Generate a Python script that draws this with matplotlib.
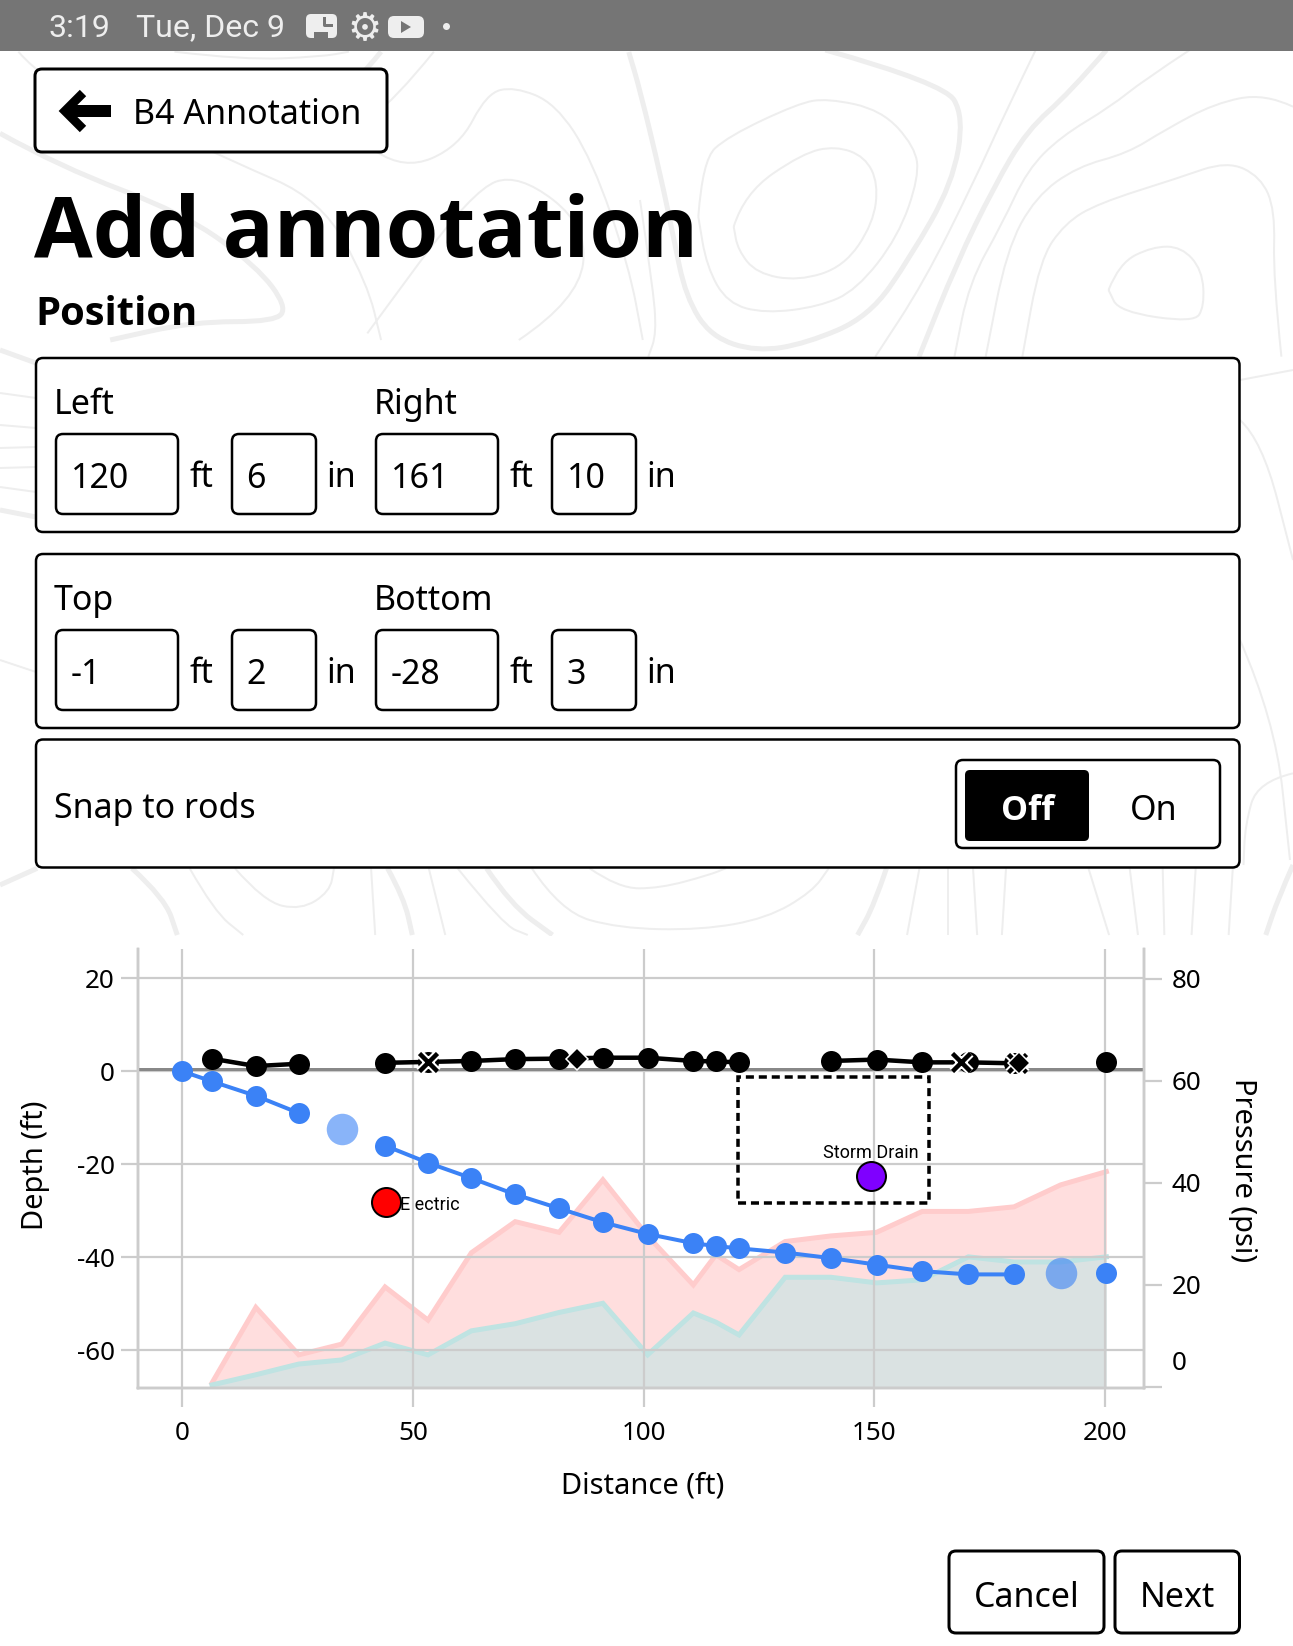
import numpy as np
import matplotlib
matplotlib.use("Agg")
import matplotlib.pyplot as plt
from matplotlib.patches import FancyBboxPatch, Rectangle, Polygon, PathPatch
from matplotlib.path import Path

plt.rcParams['font.family'] = ['Noto Sans', 'DejaVu Sans']

W, H = 1293, 1646
DPI = 100
PX = 72 / DPI  # one screen pixel in points
BOLD = dict(family="Open Sans", fontweight="bold")

# chart data
distance = [0, 6.5, 16, 25.3, 34.6, 44, 53.3, 62.7, 72.2, 81.7, 91.2, 100.9, 110.8,
            115.7, 120.7, 130.7, 140.6, 150.5, 160.4, 170.4, 180.3, 190.4, 200.3]
depth = [0, -2.2, -5.3, -9, np.nan, -16, -19.7, -23, -26.5, -29.5, -32.5, -35, -37,
         -37.6, -38.1, -39, -40.2, -41.6, -43, -43.7, -43.7, np.nan, -43.4]
missing_x = [34.6, 190.4]
missing_depth = [-12.5, -43.4]
elevation = [np.nan, 2.7, 1.1, 1.6, np.nan, 1.8, 2.0, 2.2, 2.6, 2.7, 2.9, 2.9, 2.2,
             2.1, 1.9, np.nan, 2.2, 2.5, 1.9, 1.9, 1.7, np.nan, 1.9]
cross_x = [53.3, 168.7, 181]
cross_y = [2.0, 1.9, 1.7]
diamond_x = [85.5, 181.4]
diamond_y = [2.6, 1.7]

pressure_x = distance[1:]
max_pressure = [0.8, 15.6, 6.3, 8.4, 19.6, 13.1, 26.3, 32.4, 30.3, 40.6, 29.6, 20, 25.9,
                23, 28.5, 29.6, 30.3, 34.4, 34.4, 35.3, 39.6, 42.2]
min_pressure = [0.4, 2.4, 4.5, 5.3, 8.6, 6.3, 11, 12.4, 14.6, 16.4, 6.3, 14.5, 12.7,
                10.2, 21.5, 21.5, 20.4, 21, 25.5, 24.5, 24.5, 25.5]

utility_x = [44.2, 149.2]
utility_y = [-28.2, -22.5]
utility_names = ["E ectric", "Storm Drain"]
utility_colors = ["#ff0000", "#7f00ff"]

# values in the form, these also place the dashed box
left_ft, left_in = 120, 6
right_ft, right_in = 161, 10
top_ft, top_in = -1, 2
bottom_ft, bottom_in = -28, 3

x_ticks = [0, 50, 100, 150, 200]
depth_ticks = [20, 0, -20, -40, -60]
pressure_ticks = [80, 60, 40, 20, 0]

# background contour lines, as seen in the zoomed crops (crop x, crop y)
TOP_RIGHT = (640, 50, 2.401, 3)
thick_top_right = [
    [(445, 0), (730, 100), (778, 200), (750, 400), (650, 620), (550, 800), (400, 880), (280, 905),
     (170, 860), (110, 740), (80, 560), (50, 380), (0, 120), (-27, 6)],
    [(1120, 0), (1030, 130), (930, 240), (850, 410), (760, 640), (670, 920)],
]
thin_top_right = [
    [(140, 500), (150, 330), (210, 260), (380, 160), (450, 145), (580, 180), (660, 290), (670, 380),
     (620, 560), (520, 720), (430, 770), (300, 790), (210, 760), (160, 650), (140, 500)],
    [(225, 530), (250, 430), (390, 310), (470, 288), (540, 320), (572, 400), (560, 520), (490, 650),
     (380, 693), (280, 670), (235, 600), (225, 530)],
    [(950, 0), (880, 180), (800, 400), (680, 700), (565, 920)],
    [(1320, 0), (1210, 90), (1130, 170), (1010, 260), (930, 360), (870, 520), (790, 700), (755, 920)],
    [(1568, 170), (1500, 130), (1380, 160), (1260, 240), (1170, 310), (1050, 350), (950, 440),
     (880, 600), (830, 920)],
    [(1540, 920), (1520, 680), (1525, 480), (1490, 380), (1410, 333), (1290, 385), (1100, 460),
     (1020, 520), (960, 630), (918, 920)],
    [(1125, 720), (1150, 640), (1230, 590), (1300, 590), (1350, 660), (1355, 770), (1330, 818),
     (1150, 785), (1125, 720)],
    [(0, 450), (30, 700), (40, 850), (20, 920)],
]
TOP_LEFT = (0, 0, 2.178, 3)
thick_top_left = [
    [(0, 400), (130, 500), (400, 640), (560, 800), (625, 920), (600, 965), (420, 965), (240, 1020)],
    [(830, 155), (780, 240), (700, 330)],
]
thin_top_left = [
    [(40, 155), (100, 250), (300, 350), (500, 480), (700, 600), (800, 850), (830, 1020)],
    [(380, 155), (530, 180), (700, 170), (760, 155)],
    [(945, 155), (860, 300), (760, 400), (880, 510), (1000, 440), (1060, 280), (1120, 260),
     (1210, 310), (1290, 480), (1370, 800), (1400, 1020)],
    [(1130, 1020), (1260, 900), (1280, 680), (1130, 520), (1030, 570), (800, 1000)],
]
BELOW = (0, 725, 1.2127, 3)
thick_below = [
    [(160, 430), (200, 520), (215, 630)], [(470, 430), (490, 520), (500, 630)],
    [(590, 430), (620, 540), (670, 630)], [(1075, 430), (1060, 540), (1040, 630)],
    [(1568, 420), (1550, 520), (1535, 630)], [(0, 480), (45, 430)],
]
thin_below = [
    [(230, 430), (260, 560), (295, 630)], [(285, 430), (320, 530), (365, 555), (400, 500), (405, 430)],
    [(450, 430), (455, 630)], [(520, 430), (540, 630)], [(555, 430), (610, 600), (640, 630)],
    [(645, 430), (680, 560), (750, 610), (850, 615), (930, 580), (985, 500), (1005, 430)],
    [(715, 430), (750, 490), (800, 490), (860, 450), (880, 430)],
    [(1115, 430), (1100, 630)], [(1150, 430), (1150, 630)], [(1180, 430), (1185, 630)],
    [(1220, 430), (1215, 630)], [(1320, 430), (1345, 630)], [(1370, 430), (1380, 630)],
    [(1410, 430), (1412, 630)], [(1450, 430), (1445, 630)], [(1495, 430), (1490, 630)],
    [(1568, 145), (1525, 170), (1510, 300), (1508, 420)],
]
thin_margin = [
    [(0, 393), (36, 398)], [(0, 425), (36, 428)], [(0, 448), (36, 447)], [(0, 468), (36, 467)],
    [(0, 487), (36, 492)], [(1240, 420), (1262, 440), (1293, 560)], [(1240, 640), (1275, 720), (1290, 860)],
    [(0, 660), (36, 672)], [(1240, 380), (1293, 370)],
]
thick_margin = [[(0, 350), (36, 363)], [(0, 510), (36, 517)]]

fig = plt.figure(figsize=(W / DPI, H / DPI), dpi=DPI, facecolor="white")

# screen layer in pixel coordinates
ui = fig.add_axes([0, 0, 1, 1])
ui.set_xlim(0, W)
ui.set_ylim(H, 0)
ui.axis("off")


def contour(points, crop, lw, color="#eeeeee"):
    x0, y0, sx, sy = crop
    pts = [(x0 + px / sx, y0 + py / sy) for px, py in points]
    verts = [pts[0]]
    codes = [Path.MOVETO]
    for a, b in zip(pts[1:-1], pts[2:]):
        verts += [a, ((a[0] + b[0]) / 2, (a[1] + b[1]) / 2)]
        codes += [Path.CURVE3, Path.CURVE3]
    verts += [pts[-1]]
    codes += [Path.LINETO]
    ui.add_patch(PathPatch(Path(verts, codes), fill=False, ec=color, lw=lw * PX, zorder=1))


for line in thick_top_right:
    contour(line, TOP_RIGHT, 5)
for line in thin_top_right:
    contour(line, TOP_RIGHT, 2)
for line in thick_top_left:
    contour(line, TOP_LEFT, 5)
for line in thin_top_left:
    contour(line, TOP_LEFT, 2)
for line in thick_below:
    contour(line, BELOW, 5)
for line in thin_below:
    contour(line, BELOW, 2)
for line in thin_margin:
    contour(line, (0, 0, 1, 1), 2)
for line in thick_margin:
    contour(line, (0, 0, 1, 1), 5)


def box(x0, y0, x1, y1, lw=2.5, radius=7, fc="white", ec="black", z=3):
    ui.add_patch(FancyBboxPatch((x0, y0), x1 - x0, y1 - y0,
                                boxstyle=f"round,pad=0,rounding_size={radius}",
                                fc=fc, ec=ec, lw=lw * PX, zorder=z))


def label(x, y, s, size, **kw):
    kw.setdefault("va", "baseline")
    kw.setdefault("color", "black")
    ui.text(x, y, s, fontsize=size * PX, zorder=6, **kw)


# white chart area and status bar
ui.add_patch(Rectangle((0, 936), W, H - 936, fc="white", ec="none", zorder=2))
ui.add_patch(Rectangle((0, 0), W, 51, fc="#757575", ec="none", zorder=2))
label(49, 28, "3:19", 32, family="Roboto", color="#eeeeee", va="center")
label(136, 28, "Tue, Dec 9", 32, family="Roboto", color="#eeeeee", va="center")
box(306, 14, 337, 38, lw=0, radius=5, fc="#eeeeee")
ui.plot([324, 324, 331], [18, 25, 25], color="#757575", lw=3 * PX, zorder=4)
ui.add_patch(Rectangle((314, 32), 14, 8, fc="#757575", ec="none", zorder=4))
label(364, 30, "\u2699", 38, family="DejaVu Sans", color="#eeeeee", va="center", ha="center")
box(388, 16, 424, 38, lw=0, radius=6, fc="#eeeeee")
ui.add_patch(Polygon([(401, 21), (401, 33), (411, 27)], fc="#757575", ec="none", zorder=4))
ui.plot([446], [26], "o", color="#eeeeee", ms=7 * PX, mew=0, zorder=4)

# back button and headings
box(35, 69, 387, 152, lw=3)
ui.plot([111, 68], [111, 111], color="black", lw=12 * PX, solid_capstyle="butt", zorder=4)
ui.plot([83, 65, 83], [93, 111, 129], color="black", lw=9 * PX, solid_joinstyle="miter",
        solid_capstyle="butt", zorder=4)
label(133, 124, "B4 Annotation", 34)
label(34, 257, "Add annotation", 85, **BOLD)
label(35, 325, "Position", 40, **BOLD)

# position panels
for top, first, second, vals in [(358, "Left", "Right", (left_ft, left_in, right_ft, right_in)),
                                 (554, "Top", "Bottom", (top_ft, top_in, bottom_ft, bottom_in))]:
    box(36, top, 1239.5, top + 174)
    label(54, top + 56, first, 34)
    label(374, top + 56, second, 34)
    for x0, x1, val, unit, unit_x in zip((56, 232, 376, 552), (178, 316, 498, 636), vals,
                                         ("ft", "in", "ft", "in"), (189, 326, 509, 646)):
        box(x0, top + 76, x1, top + 156, lw=2.5)
        label(x0 + 14.5, top + 130, str(val), 34)
        label(unit_x, top + 129, unit, 34)

# snap panel
box(36, 739.5, 1239.5, 867.5)
label(54, 818, "Snap to rods", 34)
box(956, 760, 1220, 848)
box(965, 770, 1089, 841, lw=0, radius=5, fc="black", z=4)
label(1028, 820, "Off", 34, color="white", ha="center", **BOLD)
label(1154, 820, "On", 34, ha="center")

# bottom buttons
box(949, 1551, 1104, 1633, lw=3)
box(1115, 1551, 1239.5, 1633, lw=3)
label(1026.5, 1607, "Cancel", 34, ha="center")
label(1177, 1607, "Next", 34, ha="center")

# chart
AX_L, AX_R, AX_T, AX_B = 137.6, 1144, 949, 1388
GRID = "#cccccc"
ax = fig.add_axes([AX_L / W, 1 - AX_B / H, (AX_R - AX_L) / W, (AX_B - AX_T) / H])
ax_p = ax.twinx()
ax.patch.set_visible(False)
ax_p.patch.set_visible(False)
ax.set_zorder(ax_p.get_zorder() + 1)

ax.set_xlim((AX_L - 182) / 4.615, (AX_R - 182) / 4.615)
ax.set_ylim((1071.2 - AX_B) / 4.65, (1071.2 - AX_T) / 4.65)
ax_p.set_ylim((1387 - AX_B) / 5.104, (1387 - AX_T) / 5.104)

# pressure areas
floor = ax_p.get_ylim()[0]
ax_p.fill_between(pressure_x, max_pressure, floor, color="#ff0000", alpha=0.13, lw=0)
ax_p.fill_between(pressure_x, min_pressure, floor, color="#00fffa", alpha=0.145, lw=0)
ax_p.plot(pressure_x, max_pressure, color="#ffcccc", lw=5 * PX, solid_joinstyle="miter")
ax_p.plot(pressure_x, min_pressure, color="#bfe3e2", lw=5 * PX, solid_joinstyle="miter")

ax.set_xticks(x_ticks)
ax.set_xticklabels([str(v) for v in x_ticks])
ax.set_yticks(depth_ticks)
ax.set_yticklabels([str(v) for v in depth_ticks])
ax_p.set_yticks(pressure_ticks)
ax_p.set_yticklabels([str(v) if v else "" for v in pressure_ticks])
ax.grid(True, color=GRID, lw=2.2 * PX)
ax.set_axisbelow(True)
ax.tick_params(axis="x", length=19 * PX, width=2.2 * PX, color=GRID, labelsize=26 * PX, pad=14 * PX)
ax.tick_params(axis="y", length=17 * PX, width=2.2 * PX, color=GRID, labelsize=26 * PX, pad=6 * PX)
ax_p.tick_params(axis="y", length=18 * PX, width=2.2 * PX, color=GRID, labelsize=26 * PX, pad=10 * PX)
ax_p.annotate("0", xy=(1, 0), xycoords=("axes fraction", "data"), xytext=(28 * PX, 23 * PX),
              textcoords="offset points", fontsize=26 * PX, va="center", ha="left")

for a in (ax, ax_p):
    a.spines["top"].set_visible(False)
    for side in ("left", "right", "bottom"):
        a.spines[side].set_color(GRID)
        a.spines[side].set_linewidth(2.5 * PX)

ax.set_xlabel("Distance (ft)", fontsize=29 * PX)
ax.xaxis.set_label_coords(0.5023, -0.19)
ax.set_ylabel("Depth (ft)", fontsize=29 * PX, va="center")
ax.yaxis.set_label_coords((35.5 - AX_L) / (AX_R - AX_L), 0.508)
ax_p.set_ylabel("Pressure (psi)", fontsize=29 * PX, rotation=270, va="center")
ax_p.yaxis.set_label_coords((1242 - AX_L) / (AX_R - AX_L), 0.4966)

# ground line
ax.axhline(0.4, color="#888888", lw=3 * PX, zorder=1.5)

# drawn box from the form values
box_left = left_ft + left_in / 12
box_right = right_ft + right_in / 12
box_top = top_ft - top_in / 12
box_bottom = bottom_ft - bottom_in / 12
ax.add_patch(Rectangle((box_left, box_bottom), box_right - box_left, box_top - box_bottom, fill=False,
                       ec="black", lw=3.5 * PX, ls=(0, (2.3, 1.4)), zorder=2.5))

# rod tops
ax.plot(distance, elevation, "-o", color="black", lw=4.5 * PX, ms=21 * PX, mew=0, zorder=3)
ax.plot(cross_x, cross_y, "x", color="white", ms=18 * PX, mew=8.5 * PX, zorder=3.1)
ax.plot(cross_x, cross_y, "x", color="black", ms=18 * PX, mew=4.5 * PX, zorder=3.2)
ax.plot(diamond_x, diamond_y, "D", color="black", mec="white", ms=15 * PX, mew=1.5 * PX, zorder=3.3)

# depth readings
ax.plot(distance, depth, "-o", color="#3b82f6", lw=4 * PX, ms=21 * PX, mew=0, zorder=4)
ax.plot(missing_x, missing_depth, "o", color="#3b82f6", alpha=0.6, ms=31.5 * PX, mew=0, zorder=4)

# utilities
for ux, uy, name, col, off, ha in zip(utility_x, utility_y, utility_names, utility_colors,
                                      [(14, -3), (0, 23)], ["left", "center"]):
    ax.plot([ux], [uy], "o", color=col, mec="black", ms=29 * PX, mew=2 * PX, zorder=5)
    ax.annotate(name, (ux, uy), xytext=(off[0] * PX, off[1] * PX), textcoords="offset points",
                family="Roboto", fontsize=18 * PX, ha=ha, va="center", zorder=5)

fig.savefig("out.png", dpi=DPI)
